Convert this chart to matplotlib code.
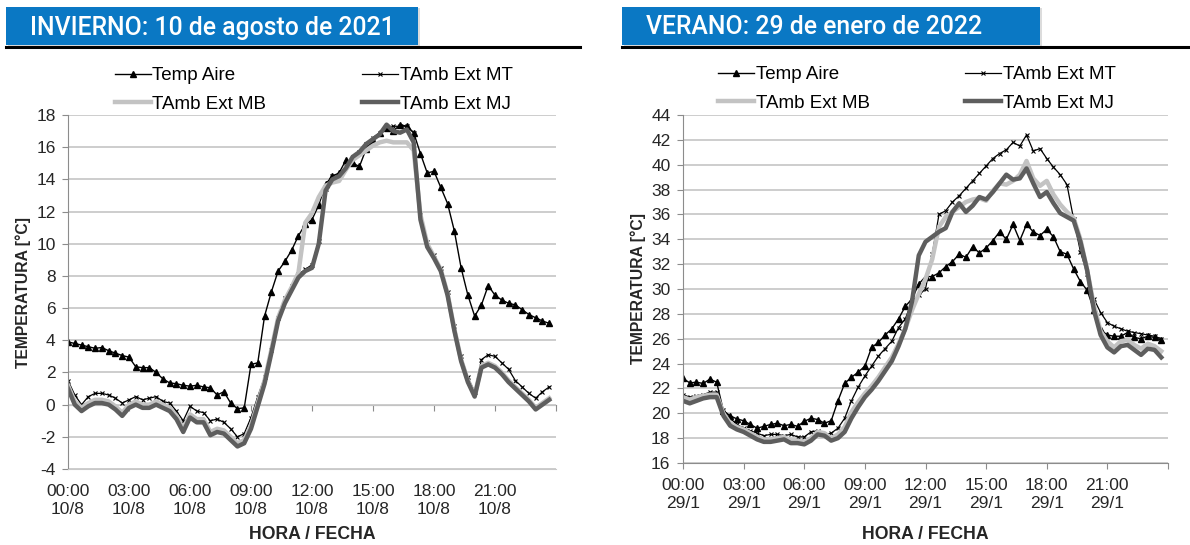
import matplotlib.pyplot as plt
import numpy as np
from matplotlib.patches import Rectangle
from matplotlib.lines import Line2D

plt.rcParams['font.family'] = ['Liberation Sans', 'DejaVu Sans']
plt.rcParams['axes.unicode_minus'] = False

# registros cada 20 minutos (72 por día)
hours = np.arange(72) / 3.0

tick_hours = [0, 3, 6, 9, 12, 15, 18, 21]
tick_times = ['00:00', '03:00', '06:00', '09:00', '12:00', '15:00', '18:00', '21:00']

series_names = ['Temp Aire', 'TAmb Ext MT', 'TAmb Ext MB', 'TAmb Ext MJ']

# INVIERNO: 10 de agosto de 2021
winter_aire = [3.9, 3.8, 3.7, 3.6, 3.5, 3.55, 3.35, 3.2, 3.05, 2.95, 2.35, 2.3,
               2.3, 2.0, 1.6, 1.35, 1.3, 1.2, 1.15, 1.2, 1.1, 1.05, 0.6, 0.8,
               0.1, -0.25, -0.2, 2.5, 2.6, 5.5, 7.0, 8.3, 8.9, 9.6, 10.5, 11.2,
               11.5, 12.4, 13.7, 14.2, 14.4, 15.2, 15.0, 14.8, 15.9, 16.4, 16.9, 17.2,
               17.0, 17.4, 17.3, 16.9, 15.6, 14.4, 14.5, 13.5, 12.5, 10.8, 8.5, 6.8,
               5.5, 6.2, 7.4, 6.8, 6.5, 6.3, 6.2, 5.9, 5.6, 5.4, 5.2, 5.05]
winter_mt = [1.5, 0.6, 0.0, 0.5, 0.7, 0.7, 0.6, 0.4, 0.1, 0.3, 0.5, 0.3,
             0.4, 0.5, 0.2, 0.1, -0.4, -1.0, -0.1, -0.4, -0.5, -1.0, -0.9, -1.1,
             -1.5, -2.0, -1.8, -0.8, 0.5, 1.7, 3.4, 5.4, 6.6, 7.4, 8.1, 8.4,
             8.7, 10.2, 13.4, 14.2, 14.2, 14.8, 15.4, 15.7, 16.2, 16.6, 16.9, 17.2,
             17.3, 17.3, 17.3, 16.9, 11.8, 10.1, 9.3, 8.5, 7.0, 4.9, 3.0, 1.7,
             0.8, 2.8, 3.1, 3.0, 2.6, 2.2, 1.5, 1.1, 0.7, 0.4, 0.8, 1.1]
winter_mb = [1.2, 0.2, -0.2, 0.1, 0.3, 0.3, 0.2, -0.1, -0.5, 0.0, 0.2, 0.0,
             0.0, 0.2, 0.0, -0.2, -0.7, -1.5, -0.6, -0.9, -0.9, -1.7, -1.5, -1.6,
             -2.0, -2.4, -2.2, -1.3, 0.1, 1.5, 3.4, 5.4, 6.5, 7.3, 8.2, 11.3,
             11.9, 12.9, 13.6, 13.8, 13.9, 14.6, 15.2, 15.5, 15.8, 16.1, 16.3, 16.4,
             16.3, 16.3, 16.3, 15.8, 11.8, 10.0, 9.2, 8.4, 6.9, 4.7, 2.8, 1.5,
             0.6, 2.4, 2.6, 2.4, 2.0, 1.5, 1.1, 0.7, 0.3, -0.2, 0.1, 0.4]
winter_mj = [1.0, 0.0, -0.4, -0.1, 0.1, 0.1, 0.0, -0.3, -0.7, -0.2, 0.0, -0.2,
             -0.2, 0.0, -0.2, -0.4, -0.9, -1.7, -0.8, -1.1, -1.1, -1.9, -1.7, -1.8,
             -2.2, -2.6, -2.4, -1.5, -0.1, 1.3, 3.2, 5.2, 6.3, 7.1, 7.9, 8.3,
             8.5, 10.0, 13.3, 14.0, 14.2, 14.7, 15.4, 15.7, 16.2, 16.5, 16.8, 17.4,
             17.0, 16.9, 17.1, 16.3, 11.5, 9.8, 9.1, 8.3, 6.8, 4.6, 2.7, 1.4,
             0.5, 2.3, 2.5, 2.3, 1.9, 1.4, 1.0, 0.6, 0.2, -0.3, 0.0, 0.3]

# VERANO: 29 de enero de 2022
summer_aire = [22.8, 22.45, 22.5, 22.4, 22.75, 22.5, 20.2, 19.8, 19.55, 19.4, 19.1, 18.8,
               18.95, 19.1, 19.2, 19.0, 19.1, 18.95, 19.35, 19.6, 19.5, 19.2, 19.4, 21.0,
               22.4, 22.9, 23.3, 23.8, 25.3, 25.7, 26.3, 26.8, 27.6, 28.6, 29.2, 30.4,
               31.0, 31.0, 31.3, 31.8, 32.2, 32.8, 32.55, 33.4, 32.9, 33.3, 33.9, 34.6,
               34.0, 35.2, 33.9, 35.2, 34.6, 34.3, 34.8, 34.2, 33.0, 32.8, 31.6, 30.6,
               29.9, 28.3, 26.7, 26.3, 26.2, 26.2, 26.5, 26.1, 26.0, 26.2, 26.1, 25.9]
summer_mt = [21.5, 21.3, 21.4, 21.5, 21.7, 21.7, 20.3, 19.6, 19.1, 18.8, 18.6, 18.4,
             18.2, 18.3, 18.3, 18.2, 18.3, 18.1, 18.1, 18.5, 18.6, 18.3, 18.4, 18.8,
             19.6, 21.0, 22.1, 23.0, 23.8, 24.6, 25.2, 25.8, 26.9, 27.6, 29.0, 29.5,
             30.0, 32.8, 36.0, 36.3, 37.0, 37.5, 38.1, 38.7, 39.3, 39.9, 40.5, 40.9,
             41.2, 41.8, 41.5, 42.4, 41.1, 41.3, 40.5, 39.8, 39.2, 38.4, 35.6, 33.0,
             31.2, 29.2, 28.1, 27.3, 27.0, 26.8, 26.6, 26.5, 26.4, 26.3, 26.2, 26.0]
summer_mb = [21.3, 21.1, 21.3, 21.4, 21.5, 21.5, 20.0, 19.2, 18.9, 18.7, 18.4, 18.1,
             17.9, 17.9, 18.0, 18.1, 17.8, 17.8, 17.7, 18.0, 18.5, 18.4, 18.0, 18.3,
             18.9, 20.1, 20.9, 21.6, 22.2, 22.9, 23.7, 24.5, 25.6, 26.8, 28.3, 29.6,
             30.8, 32.4, 35.0, 35.8, 36.2, 36.6, 37.0, 37.2, 37.3, 37.1, 37.9, 38.5,
             38.4, 38.7, 39.2, 40.3, 38.9, 38.3, 38.7, 37.6, 36.8, 36.2, 35.7, 34.0,
             31.5, 28.7, 26.6, 25.8, 25.3, 25.8, 25.9, 25.5, 25.2, 25.6, 25.4, 25.0]
summer_mj = [21.0, 20.8, 21.0, 21.2, 21.3, 21.3, 19.8, 19.0, 18.7, 18.5, 18.2, 17.9,
             17.7, 17.7, 17.8, 17.9, 17.6, 17.6, 17.5, 17.8, 18.3, 18.2, 17.8, 18.0,
             18.5, 19.6, 20.5, 21.3, 21.9, 22.6, 23.4, 24.2, 25.4, 26.8, 29.0, 32.7,
             33.8, 34.2, 34.6, 34.9, 36.2, 36.9, 36.2, 36.7, 37.4, 37.2, 37.8, 38.5,
             39.2, 38.8, 38.9, 39.7, 38.5, 37.4, 37.8, 36.9, 36.1, 35.8, 35.5, 33.8,
             31.5, 28.3, 26.3, 25.3, 24.9, 25.4, 25.5, 25.1, 24.7, 25.2, 25.1, 24.5]

W, H = 1190, 545
BLUE = '#0a78c4'
GRID = '#c9c9c9'
AXIS = '#8c8c8c'
TXT = '#262626'


def px(x, y):
    return x / W, 1 - y / H


def panel(rect, aire, mt, mb, mj, ylim, day, leg_xy, cross_zero=False):
    ax = fig.add_axes(rect)
    ax.plot(hours, aire, color='black', lw=1.0, marker='^', ms=4.5, label=series_names[0])
    ax.plot(hours, mt, color='black', lw=0.9, marker='x', ms=3.5, mew=0.8, label=series_names[1])
    ax.plot(hours, mb, color='#c3c3c3', lw=3.2, label=series_names[2])
    ax.plot(hours, mj, color='#5e5e5e', lw=3.2, label=series_names[3])

    ax.set_xlim(0, 24)
    ax.set_ylim(*ylim)
    ax.set_yticks(np.arange(ylim[0], ylim[1] + 1, 2))
    ax.yaxis.grid(True, color=GRID, lw=1.3)
    ax.set_axisbelow(True)
    ax.set_xticks(tick_hours + [24])
    ax.set_xticklabels(['%s\n%s' % (t, day) for t in tick_times] + [''])

    for s in ['top', 'right']:
        ax.spines[s].set_visible(False)
    ax.spines['left'].set_color(AXIS)
    ax.spines['bottom'].set_color(AXIS)
    ax.tick_params(axis='both', colors=AXIS, labelcolor=TXT, labelsize=12.5, length=4)
    ax.tick_params(axis='x', pad=7)
    ax.tick_params(axis='y', pad=5)
    if cross_zero:
        # eje horizontal cruzando en 0 °C, etiquetas abajo
        ax.spines['bottom'].set_color(GRID)
        ax.tick_params(axis='x', length=0, pad=11)
        sec = ax.secondary_xaxis(-ylim[0] / (ylim[1] - ylim[0]))
        sec.set_xticks(tick_hours + [24])
        sec.set_xticklabels([''] * 9)
        sec.spines['bottom'].set_color(AXIS)
        sec.tick_params(colors=AXIS, length=4)

    ax.set_ylabel('TEMPERATURA [°C]', fontsize=11.3, fontweight='bold', color=TXT)
    ax.set_xlabel('HORA / FECHA', fontsize=12.7, fontweight='bold', color=TXT)
    ax.yaxis.set_label_coords(-0.076, 0.5)
    h_ax = rect[3] * H
    ax.xaxis.set_label_coords(0.5, -(rect[1] * H - 19) / h_ax)

    h, l = ax.get_legend_handles_labels()
    order = [0, 2, 1, 3]
    ax.legend([h[i] for i in order], [l[i] for i in order], ncol=2, numpoints=1,
              loc='upper left', bbox_to_anchor=px(*leg_xy), bbox_transform=fig.transFigure,
              frameon=False, fontsize=13.5, handlelength=1.9, handletextpad=0.1,
              columnspacing=5.1, labelspacing=0.6, borderpad=0, borderaxespad=0)
    return ax


def banner(x0, x1, line_end, text):
    # sombra, franja azul y línea negra bajo el título
    fig.add_artist(Rectangle(px(x0 + 2, 47), (x1 - x0) / W, 39 / H, transform=fig.transFigure,
                             facecolor='#dcdcdc', edgecolor='none'))
    fig.add_artist(Rectangle(px(x0, 45), (x1 - x0) / W, 38 / H, transform=fig.transFigure,
                             facecolor=BLUE, edgecolor='none'))
    xa, ya = px(x0, 46.5)
    xb, _ = px(line_end, 46.5)
    fig.add_artist(Line2D([xa, xb], [ya, ya], transform=fig.transFigure, color='black', lw=2.2))
    tx, ty = px(x0 + 24, 27.5)
    fig.text(tx, ty, text, color='white', fontsize=17.8, family='Roboto', fontweight='medium',
             va='center', ha='left')


fig = plt.figure(figsize=(W / 100, H / 100), dpi=100)

l0, t0 = px(68, 115)
l1, b1 = px(556, 469)
panel([l0, b1, l1 - l0, t0 - b1], winter_aire, winter_mt, winter_mb, winter_mj,
      (-4, 18), '10/8', (115, 67), cross_zero=True)

r0, t1 = px(683, 115)
r1, b2 = px(1168, 463)
panel([r0, b2, r1 - r0, t1 - b2], summer_aire, summer_mt, summer_mb, summer_mj,
      (16, 44), '29/1', (718, 66))

banner(6, 418, 580, 'INVIERNO: 10 de agosto de 2021')
banner(622, 1040, 1190, 'VERANO: 29 de enero de 2022')

fig.savefig('out.png', dpi=100)
